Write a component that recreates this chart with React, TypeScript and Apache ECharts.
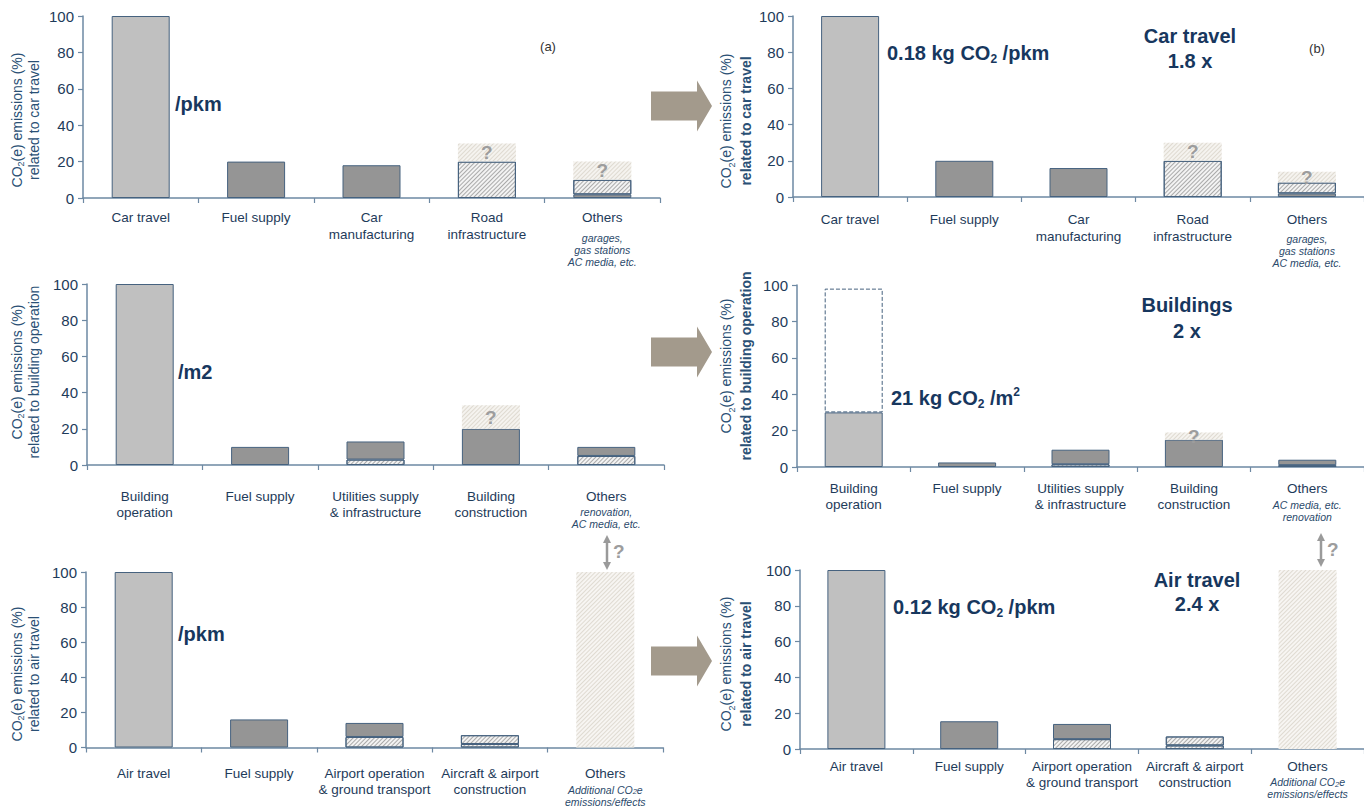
import React, { useEffect, useRef } from 'react';
import * as echarts from 'echarts';

// ---------------- data ----------------
const yMin = 0;
const yMax = 100;
const yStep = 20;

const carCategories = ['Car travel', 'Fuel supply', 'Car\nmanufacturing', 'Road\ninfrastructure', 'Others'];
const carNotes = ['garages,', 'gas stations', 'AC media, etc.'];
const carA_direct = [100, null, null, null, null];
const carA_indirect = [null, 20, 18, null, 2];
const carA_hatched = [null, null, null, 20, 8];
const carA_unknown = [null, null, null, 10, 10];

const carB_direct = [100, null, null, null, null];
const carB_indirect = [null, 20, 16, null, 2];
const carB_hatched = [null, null, null, 20, 6];
const carB_unknown = [null, null, null, 10, 6];

const bldCategories = ['Building\noperation', 'Fuel supply', 'Utilities supply\n& infrastructure', 'Building\nconstruction', 'Others'];
const bldNotesA = ['renovation,', 'AC media, etc.'];
const bldNotesB = ['AC media, etc.', 'renovation'];
const bldA_direct = [100, null, null, null, null];
const bldA_indirect = [null, 10, null, 20, null];
const bldA_hatched = [null, null, 3, null, 5];
const bldA_indirectTop = [null, null, 10, null, 5];
const bldA_unknown = [null, null, null, 13, null];

const bldB_direct = [30, null, null, null, null];
const bldB_previous = [68, null, null, null, null];
const bldB_indirect = [null, 2.5, null, 15, null];
const bldB_hatched = [null, null, 1.5, null, 1];
const bldB_indirectTop = [null, null, 8, null, 3];
const bldB_unknown = [null, null, null, 4, null];

const airCategories = ['Air travel', 'Fuel supply', 'Airport operation\n& ground transport', 'Aircraft & airport\nconstruction', 'Others'];
const airNotes = ['Additional CO2e', 'emissions/effects'];
const airA_direct = [100, null, null, null, null];
const airA_indirect = [null, 16, null, null, null];
const airA_hatched = [null, null, 6, 2, null];
const airA_hatchedTop = [null, null, null, 5, null];
const airA_indirectTop = [null, null, 8, null, null];
const airA_effects = [null, null, null, null, 100];

const airB_direct = [100, null, null, null, null];
const airB_indirect = [null, 15.5, null, null, null];
const airB_hatched = [null, null, 5.5, 2, null];
const airB_hatchedTop = [null, null, null, 5, null];
const airB_indirectTop = [null, null, 8.5, null, null];
const airB_effects = [null, null, null, null, 100];

// ---------------- styling ----------------
const FONT = "'Liberation Sans', Arial, Helvetica, sans-serif";
const NAVY = '#17375e';
const LABEL = '#1e3b5a';
const NOTE = '#2b4a6b';
const TITLE = '#2a5075';
const AXIS = '#6d89a3';
const EDGE = '#46627f';
const QCOL = '#9d9d9d';
const ARROW = '#a39a8c';

const HATCH = {
  symbol: 'rect', symbolSize: 1, color: 'rgba(120,120,120,0.6)',
  dashArrayX: [1, 0], dashArrayY: [1, 1.6], rotation: -Math.PI / 4,
};
const FAINT = {
  symbol: 'rect', symbolSize: 1, color: 'rgba(210,204,193,0.65)',
  dashArrayX: [1, 0], dashArrayY: [1, 1.6], rotation: -Math.PI / 4,
};

type Layer = [string, (number | null)[]];

const panels = [
  {
    left: 83, top: 16, width: 577, height: 182, margin: 10.5, mainLH: 17, noteGap: 6.5,
    cats: carCategories, notes: carNotes, title2: 'related to car travel', tx: 25, ty: 120, tlh: 17, bold2: false,
    layers: [['direct', carA_direct], ['indirect', carA_indirect], ['hatched', carA_hatched], ['unknown', carA_unknown]] as Layer[],
  },
  {
    left: 793, top: 16, width: 577, height: 181, margin: 13.5, mainLH: 17, noteGap: 5.5,
    cats: carCategories, notes: carNotes, title2: 'related to car travel', tx: 736, ty: 121, tlh: 19.5, bold2: true,
    layers: [['direct', carB_direct], ['indirect', carB_indirect], ['hatched', carB_hatched], ['unknown', carB_unknown]] as Layer[],
  },
  {
    left: 87, top: 284, width: 577, height: 181, margin: 23, mainLH: 16, noteGap: 2,
    cats: bldCategories, notes: bldNotesA, title2: 'related to building operation', tx: 25, ty: 372, tlh: 17, bold2: false,
    layers: [['direct', bldA_direct], ['indirect', bldA_indirect], ['hatched', bldA_hatched], ['indirect', bldA_indirectTop], ['unknown', bldA_unknown]] as Layer[],
  },
  {
    left: 797, top: 285, width: 577, height: 182, margin: 13, mainLH: 16, noteGap: 3,
    cats: bldCategories, notes: bldNotesB, title2: 'related to building operation', tx: 736, ty: 366, tlh: 19.5, bold2: true,
    layers: [['direct', bldB_direct], ['previous', bldB_previous], ['indirect', bldB_indirect], ['hatched', bldB_hatched], ['indirect', bldB_indirectTop], ['unknown', bldB_unknown]] as Layer[],
  },
  {
    left: 86, top: 572, width: 577, height: 178, margin: 18, mainLH: 16, noteGap: 2,
    cats: airCategories, notes: airNotes, title2: 'related to air travel', tx: 25, ty: 674, tlh: 17, bold2: false,
    layers: [['direct', airA_direct], ['indirect', airA_indirect], ['hatched', airA_hatched], ['hatched', airA_hatchedTop], ['indirect', airA_indirectTop], ['effects', airA_effects]] as Layer[],
  },
  {
    left: 800, top: 570, width: 577, height: 179, margin: 9, mainLH: 16, noteGap: 2,
    cats: airCategories, notes: airNotes, title2: 'related to air travel', tx: 736, ty: 664, tlh: 19.5, bold2: true,
    layers: [['direct', airB_direct], ['indirect', airB_indirect], ['hatched', airB_hatched], ['hatched', airB_hatchedTop], ['indirect', airB_indirectTop], ['effects', airB_effects]] as Layer[],
  },
];

function noteLine(t: string) {
  if (t.indexOf('CO2') >= 0) {
    const [a, b] = t.split('CO2');
    return `{n|${a}CO}{ns|2}{n|${b}}`;
  }
  return `{n|${t}}`;
}

function makeSeries(kind: string, data: (number | null)[], gi: number) {
  const base: any = {
    type: 'bar', xAxisIndex: gi, yAxisIndex: gi, stack: 'p' + gi, barWidth: 58, data, silent: true,
  };
  if (kind === 'direct') base.itemStyle = { color: '#c0c0c0', borderColor: EDGE, borderWidth: 1 };
  if (kind === 'indirect') base.itemStyle = { color: '#959595', borderColor: EDGE, borderWidth: 1 };
  if (kind === 'hatched') base.itemStyle = { color: '#f3f3f3', borderColor: EDGE, borderWidth: 1, decal: HATCH };
  if (kind === 'previous') base.itemStyle = { color: 'rgba(255,255,255,0)', borderColor: EDGE, borderWidth: 1, borderType: 'dashed' };
  if (kind === 'effects') base.itemStyle = { color: '#f7f5f2', decal: FAINT };
  if (kind === 'unknown') {
    base.itemStyle = { color: '#f5f3ef', decal: FAINT };
    base.label = {
      show: true, position: 'inside', formatter: '?', fontSize: 19, fontWeight: 'bold',
      color: QCOL, fontFamily: FONT,
    };
  }
  return base;
}

function txt(x: number, y: number, text: string, rich: any, align = 'left', extra: any = {}) {
  return {
    type: 'text', x, y, silent: true, ...extra,
    style: {
      text, rich, align, verticalAlign: 'middle', textAlign: align, textVerticalAlign: 'middle',
      fill: NAVY, fontFamily: FONT,
    },
  };
}

const boldRich = {
  b: { fontSize: 20, fontWeight: 'bold', fill: NAVY, fontFamily: FONT, lineHeight: 24 },
  bs: { fontSize: 12, fontWeight: 'bold', fill: NAVY, fontFamily: FONT, lineHeight: 14, verticalAlign: 'bottom' },
  bp: { fontSize: 12, fontWeight: 'bold', fill: NAVY, fontFamily: FONT, lineHeight: 14, verticalAlign: 'top' },
};

function bigArrow(cy: number) {
  return {
    type: 'polygon', silent: true,
    shape: {
      points: [
        [651, cy - 14.5], [697, cy - 14.5], [697, cy - 25.5], [712, cy],
        [697, cy + 25.5], [697, cy + 14.5], [651, cy + 14.5],
      ],
    },
    style: { fill: ARROW },
  };
}

function doubleArrow(x: number, y1: number, y2: number) {
  const c = '#9a9a9a';
  return [
    { type: 'line', silent: true, shape: { x1: x, y1: y1 + 6, x2: x, y2: y2 - 6 }, style: { stroke: c, lineWidth: 2.5 } },
    { type: 'polygon', silent: true, shape: { points: [[x - 4, y1 + 8], [x, y1], [x + 4, y1 + 8]] }, style: { fill: c } },
    { type: 'polygon', silent: true, shape: { points: [[x - 4, y2 - 8], [x, y2], [x + 4, y2 - 8]] }, style: { fill: c } },
  ];
}

export default function App() {
  const ref = useRef<HTMLDivElement>(null);

  useEffect(() => {
    if (!ref.current) return;
    const chart = echarts.init(ref.current, undefined, { renderer: 'svg' });

    const series: any[] = [];
    panels.forEach((p, gi) => {
      p.layers.forEach(([kind, data]) => series.push(makeSeries(kind, data, gi)));
    });

    const graphic: any[] = [];
    panels.forEach((p) => {
      graphic.push({
        type: 'text', x: p.tx, y: p.ty, rotation: Math.PI / 2, silent: true,
        style: {
          text: `{t|CO}{ts|2}{t|(e) emissions (%)}\n{t2|${p.title2}}`,
          align: 'center', verticalAlign: 'middle', textAlign: 'center', textVerticalAlign: 'middle',
          fill: TITLE, fontFamily: FONT,
          rich: {
            t: { fontSize: 14, lineHeight: p.tlh, fill: TITLE, fontFamily: FONT },
            ts: { fontSize: 9, lineHeight: 11, fill: TITLE, fontFamily: FONT, verticalAlign: 'bottom' },
            t2: { fontSize: 14, lineHeight: p.tlh, fill: TITLE, fontFamily: FONT, fontWeight: p.bold2 ? 'bold' : 'normal' },
          },
        },
      });
    });

    graphic.push(bigArrow(106), bigArrow(352), bigArrow(661));
    graphic.push(...doubleArrow(607, 535, 570), ...doubleArrow(1321, 533, 567));
    graphic.push(
      txt(613, 551, '{q|?}', { q: { fontSize: 19, fontWeight: 'bold', fill: QCOL, fontFamily: FONT } }),
      txt(1327, 549, '{q|?}', { q: { fontSize: 19, fontWeight: 'bold', fill: QCOL, fontFamily: FONT } }),
    );

    graphic.push(
      txt(175, 104, '{b|/pkm}', boldRich),
      txt(548, 46, '{a|(a)}', { a: { fontSize: 13, fill: '#333333', fontFamily: FONT } }, 'center'),
      txt(887, 53, '{b|0.18 kg CO}{bs|2}{b| /pkm}', boldRich),
      txt(1190, 48.5, '{b|Car travel}\n{b|1.8 x}', { b: { ...boldRich.b, lineHeight: 25 } }, 'center'),
      txt(1317, 48, '{a|(b)}', { a: { fontSize: 13, fill: '#333333', fontFamily: FONT } }, 'center'),
      txt(178, 372, '{b|/m2}', boldRich),
      txt(1187, 318, '{b|Buildings}\n{b|2 x}', { b: { ...boldRich.b, lineHeight: 26 } }, 'center'),
      txt(891, 398, '{b|21 kg CO}{bs|2}{b| /m}{bp|2}', boldRich),
      txt(178, 634, '{b|/pkm}', boldRich),
      txt(1197, 592, '{b|Air travel}\n{b|2.4 x}', { b: { ...boldRich.b, lineHeight: 24 } }, 'center'),
      txt(893, 607, '{b|0.12 kg CO}{bs|2}{b| /pkm}', boldRich),
    );

    const option: any = {
      animation: false,
      textStyle: { fontFamily: FONT },
      grid: panels.map((p) => ({ left: p.left, top: p.top, width: p.width, height: p.height })),
      xAxis: panels.map((p, gi) => ({
        type: 'category', gridIndex: gi, data: p.cats,
        axisLine: { show: true, lineStyle: { color: AXIS, width: 1.5 } },
        axisTick: { show: true, length: 5, lineStyle: { color: AXIS, width: 1.2 } },
        axisLabel: {
          interval: 0, margin: p.margin, color: LABEL,
          formatter: (value: string, idx: number) => {
            const main = value.split('\n').map((l) => `{m|${l}}`).join('\n');
            if (idx !== 4 || !p.notes) return main;
            return main + '\n{sp| }\n' + p.notes.map((t) => noteLine(t)).join('\n');
          },
          rich: {
            m: { fontSize: 13.5, lineHeight: p.mainLH, color: LABEL, fontFamily: FONT },
            sp: { fontSize: 1, lineHeight: p.noteGap, color: 'rgba(0,0,0,0)' },
            n: { fontSize: 10.5, lineHeight: 12, fontStyle: 'italic', color: NOTE, fontFamily: FONT },
            ns: { fontSize: 7.5, lineHeight: 7, verticalAlign: 'bottom', fontStyle: 'italic', color: NOTE, fontFamily: FONT },
          },
        },
        splitLine: { show: false },
      })),
      yAxis: panels.map((p, gi) => ({
        type: 'value', gridIndex: gi, min: yMin, max: yMax, interval: yStep,
        axisLine: { show: true, lineStyle: { color: AXIS, width: 1.5 } },
        axisTick: { show: true, length: 5, lineStyle: { color: AXIS, width: 1.2 } },
        axisLabel: { fontSize: 15, color: LABEL, margin: 9, fontFamily: FONT },
        splitLine: { show: false },
      })),
      series,
      graphic,
    };

    chart.setOption(option);
    return () => chart.dispose();
  }, []);

  return (
    <div
      ref={ref}
      style={{ position: 'absolute', left: 0, top: 0, width: 1364, height: 807, background: '#ffffff' }}
    />
  );
}
